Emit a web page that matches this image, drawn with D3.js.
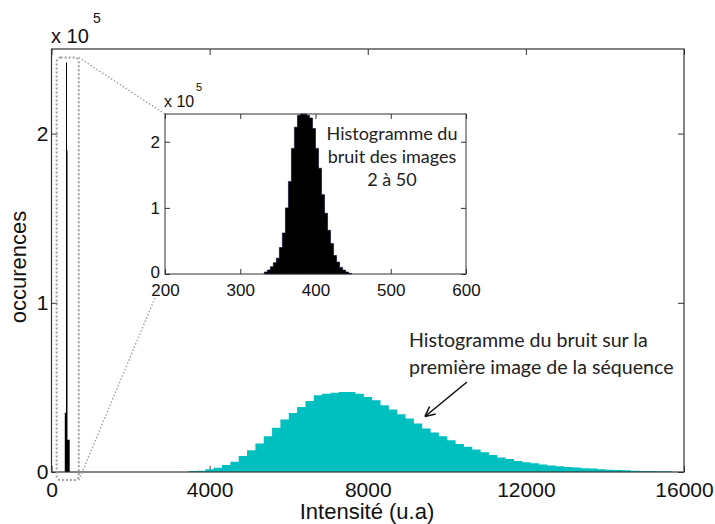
<!DOCTYPE html>
<html><head><meta charset="utf-8">
<script src="https://cdn.jsdelivr.net/npm/d3@7"></script>
<style>body{margin:0;background:#fff} svg{display:block}</style>
</head><body>
<svg id="chart" width="715" height="524"></svg>
<script>
// ---------- data ----------
const cyanBinStart = 3470;
const cyanBinWidth = 211;
const cyanCounts = [600, 800, 1600, 2500, 4100, 6100, 9400, 12900, 16900, 21200,
  26100, 31000, 34900, 38400, 42000, 45300, 46300, 46900, 47300, 47300,
  46300, 44300, 42400, 39400, 36900, 34100, 31600, 28600, 25700, 23300,
  21200, 18800, 16500, 14900, 13300, 11600, 10000, 8600, 7700, 6500,
  5700, 5100, 4500, 3900, 3400, 2900, 2600, 2200, 2000, 1600,
  1400, 1200, 1000, 800, 600, 600, 400, 400];
const insetBinStart = 332;
const insetBinWidth = 4;
const insetCounts = [3000, 6000, 11000, 17000, 24000, 40000, 62000, 100000, 140000, 190000,
  222000, 240000, 242000, 242000, 240000, 236000, 220000, 190000, 160000, 120000,
  92000, 66000, 46000, 28000, 18000, 10000, 6000, 3000, 1000];
const spikeEdges = [336, 367, 392, 404, 460];
const spikeCounts = [35000, 242000, 190000, 19000];
const xTicks = [0, 4000, 8000, 12000, 16000];
const yTicks = [0, 100000, 200000];
const insetXTicks = [200, 300, 400, 500, 600];
const insetYTicks = [0, 100000, 200000];
const insetText = ["Histogramme du", "bruit des images", "2 à 50"];
const mainText = ["Histogramme du bruit sur la", "première image de la séquence"];
const xLabel = "Intensité (u.a)";
const yLabel = "occurences";

// ---------- setup ----------
const svg = d3.select("#chart");
const MFONT = "'Liberation Sans', Arial, sans-serif";
const CFONT = "Lato, 'Open Sans', sans-serif";
const axisColor = "#333";

const x = d3.scaleLinear().domain([0, 16000]).range([51.5, 684]);
const y = d3.scaleLinear().domain([0, 250000]).range([472, 49]);

function styleAxis(g, size, showText) {
  g.select(".domain").remove();
  g.selectAll(".tick line").attr("stroke", axisColor);
  g.selectAll(".tick text").attr("fill", "#111").style("font-family", MFONT).style("font-size", size + "px");
  if (!showText) g.selectAll(".tick text").remove();
}

// ticks (beneath bars)
const main = svg.append("g");
main.append("g").attr("transform", `translate(0,${y(0)})`)
  .call(d3.axisBottom(x).tickValues(xTicks).tickSize(-6).tickPadding(10).tickFormat(d3.format("d")))
  .call(g => styleAxis(g, 21, true));
main.append("g").attr("transform", `translate(0,${y.range()[1]})`)
  .call(d3.axisTop(x).tickValues(xTicks).tickSize(-6).tickFormat(""))
  .call(g => styleAxis(g, 21, false));
main.append("g").attr("transform", `translate(${x(0)},0)`)
  .call(d3.axisLeft(y).tickValues(yTicks).tickSize(-6).tickPadding(3).tickFormat(d => d / 1e5))
  .call(g => styleAxis(g, 21, true));
main.append("g").attr("transform", `translate(${x.range()[1]},0)`)
  .call(d3.axisRight(y).tickValues(yTicks).tickSize(-6).tickFormat(""))
  .call(g => styleAxis(g, 21, false));

// cyan histogram
const cyanPts = cyanCounts.map((c, i) => [cyanBinStart + i * cyanBinWidth, c]);
cyanPts.push([cyanBinStart + cyanCounts.length * cyanBinWidth, cyanCounts[cyanCounts.length - 1]]);
const area = d3.area().curve(d3.curveStepAfter).x(d => x(d[0])).y0(y(0)).y1(d => y(d[1]));
main.append("path").datum(cyanPts).attr("d", area).attr("fill", "#00bfbf");

// black spike in main axes
const spikePts = spikeCounts.map((c, i) => [spikeEdges[i], c]);
spikePts.push([spikeEdges[spikeEdges.length - 1], spikeCounts[spikeCounts.length - 1]]);
main.append("path").datum(spikePts).attr("d", area).attr("fill", "#000");

// box
main.append("rect").attr("x", x(0)).attr("y", y.range()[1])
  .attr("width", x.range()[1] - x(0)).attr("height", y(0) - y.range()[1])
  .attr("fill", "none").attr("stroke", axisColor).attr("stroke-width", 1.2);

// exponent label
main.append("text").attr("x", 51).attr("y", 43).attr("fill", "#111")
  .style("font-family", MFONT).style("font-size", "20px").text("x 10");
main.append("text").attr("x", 93).attr("y", 23).attr("fill", "#111")
  .style("font-family", MFONT).style("font-size", "14px").text("5");

// axis labels
main.append("text").attr("x", 367).attr("y", 519).attr("text-anchor", "middle").attr("fill", "#111")
  .style("font-family", MFONT).style("font-size", "22px").text(xLabel);
main.append("text").attr("transform", "translate(26,267) rotate(-90)").attr("text-anchor", "middle").attr("fill", "#111")
  .style("font-family", MFONT).style("font-size", "22px").text(yLabel);

// ---------- inset ----------
const ix = d3.scaleLinear().domain([200, 600]).range([165, 466]);
const iy = d3.scaleLinear().domain([0, 242000]).range([274, 114]);

// zoom box & connectors
const zx0 = x(130), zx1 = x(690), zy0 = y(245000), zy1 = y(-4800);
const dot = { stroke: "#a0a0a0", "stroke-width": 2, "stroke-dasharray": "2,2", fill: "none" };
function applyAttrs(sel, o) { Object.entries(o).forEach(([k, v]) => sel.attr(k, v)); return sel; }
applyAttrs(svg.append("rect").attr("x", zx0).attr("y", zy0).attr("width", zx1 - zx0).attr("height", zy1 - zy0).attr("rx", 4), dot);
const dotLine = { stroke: "#a0a0a0", "stroke-width": 1.4, "stroke-dasharray": "1.5,2", fill: "none" };
applyAttrs(svg.append("line").attr("x1", zx1).attr("y1", zy0).attr("x2", ix.range()[0]).attr("y2", iy.range()[1]), dotLine);
const t = 0.92;
applyAttrs(svg.append("line").attr("x1", zx1).attr("y1", zy1)
  .attr("x2", zx1 + (ix.range()[0] - zx1) * t).attr("y2", zy1 + (iy(0) - zy1) * t), dotLine);

const inset = svg.append("g");
inset.append("rect").attr("x", 165).attr("y", 114).attr("width", 301).attr("height", 160).attr("fill", "#fff");
inset.append("g").attr("transform", `translate(0,${iy(0)})`)
  .call(d3.axisBottom(ix).tickValues(insetXTicks).tickSize(-5).tickPadding(10))
  .call(g => styleAxis(g, 17, true));
inset.append("g").attr("transform", `translate(0,${iy.range()[1]})`)
  .call(d3.axisTop(ix).tickValues(insetXTicks).tickSize(-5).tickFormat(""))
  .call(g => styleAxis(g, 17, false));
inset.append("g").attr("transform", `translate(${ix(200)},0)`)
  .call(d3.axisLeft(iy).tickValues(insetYTicks).tickSize(-5).tickPadding(5).tickFormat(d => d / 1e5))
  .call(g => styleAxis(g, 17, true));
inset.append("g").attr("transform", `translate(${ix(600)},0)`)
  .call(d3.axisRight(iy).tickValues(insetYTicks).tickSize(-5).tickFormat(""))
  .call(g => styleAxis(g, 17, false));
// nudge the "0" label up slightly, as in the reference, so it clears the "200"
inset.selectAll("text").filter(d => d === 0).attr("dy", "0.2em");

const insetPts = insetCounts.map((c, i) => [insetBinStart + i * insetBinWidth, c]);
insetPts.push([insetBinStart + insetCounts.length * insetBinWidth, insetCounts[insetCounts.length - 1]]);
const iarea = d3.area().curve(d3.curveStepAfter).x(d => ix(d[0])).y0(iy(0)).y1(d => iy(d[1]));
inset.append("path").datum(insetPts).attr("d", iarea).attr("fill", "#000").attr("stroke", "#000033").attr("stroke-width", 0.6);

inset.append("rect").attr("x", 165).attr("y", 114).attr("width", 301).attr("height", 160)
  .attr("fill", "none").attr("stroke", axisColor).attr("stroke-width", 1);

inset.append("text").attr("x", 164).attr("y", 107).attr("fill", "#111")
  .style("font-family", MFONT).style("font-size", "16px").text("x 10");
inset.append("text").attr("x", 196).attr("y", 91).attr("fill", "#111")
  .style("font-family", MFONT).style("font-size", "11px").text("5");

inset.selectAll("text.note").data(insetText).join("text").attr("class", "note")
  .attr("x", 392).attr("y", (d, i) => 140 + i * 23).attr("text-anchor", "middle").attr("fill", "#222")
  .style("font-family", CFONT).style("font-size", "18px").text(d => d);

// ---------- main annotation ----------
svg.selectAll("text.mnote").data(mainText).join("text").attr("class", "mnote")
  .attr("x", 409).attr("y", (d, i) => 347 + i * 27).attr("fill", "#222")
  .style("font-family", CFONT).style("font-size", "19.6px").text(d => d);

// arrow
const ax1 = 467, ay1 = 382, ax2 = 425, ay2 = 416.5;
svg.append("line").attr("x1", ax1).attr("y1", ay1).attr("x2", ax2).attr("y2", ay2)
  .attr("stroke", "#111").attr("stroke-width", 1.6);
const ang = Math.atan2(ay1 - ay2, ax1 - ax2);
[-0.45, 0.45].forEach(da => {
  svg.append("line").attr("x1", ax2).attr("y1", ay2)
    .attr("x2", ax2 + 11 * Math.cos(ang + da)).attr("y2", ay2 + 11 * Math.sin(ang + da))
    .attr("stroke", "#111").attr("stroke-width", 1.6);
});
</script>
</body></html>
